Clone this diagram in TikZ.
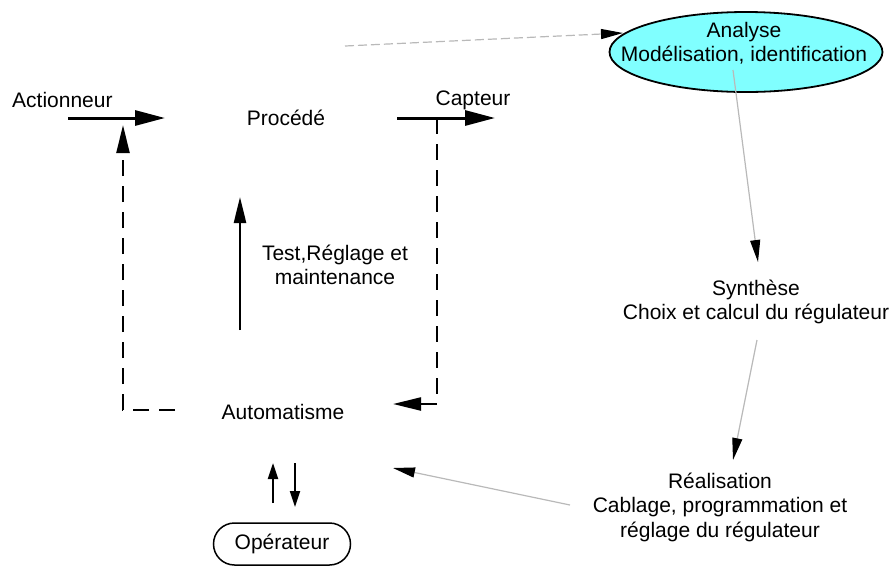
\documentclass[tikz,border=0pt]{standalone}
\usepackage{fontspec}
\setmainfont{Liberation Sans}
\usetikzlibrary{arrows.meta,shapes.geometric}
\definecolor{anacyan}{RGB}{128,255,255}
\definecolor{linkgray}{RGB}{185,185,185}
\begin{document}
\begin{tikzpicture}[x=1pt,y=-1pt,
  every node/.style={font=\fontsize{21}{24.5}\selectfont, inner sep=0pt, align=center},
  bigarrow/.style={line width=3pt, -{Triangle[length=30pt,width=15pt]}},
  loopdash/.style={line width=2.2pt, dash pattern=on 16pt off 10pt, -{Triangle[length=28pt,width=13pt]}},
  solidarrow/.style={line width=2.5pt, -{Triangle[length=26pt,width=12pt]}},
  smallarrow/.style={line width=2.2pt, -{Triangle[length=16pt,width=10pt]}},
  thinlink/.style={draw=linkgray, line width=1.2pt, -{Triangle[length=22pt,width=10pt,color=black,fill=black]}},
]
\useasboundingbox (0,0) rectangle (892,566);

% text nodes of the loop
\node[anchor=west] (act) at (12,100) {Actionneur};
\node (proc) at (286,118) {Procédé};
\node (capt) at (473,100) {Capteur};
\node (test) at (335,265) {Test,Réglage et\\maintenance};
\node (auto) at (283,412) {Automatisme};
\node[draw, rounded corners=21pt, line width=1.5pt, minimum width=137pt, minimum height=42pt] (op) at (282,544) {Opérateur};

% design steps
\node[ellipse, draw, fill=anacyan, line width=1.8pt, minimum width=273pt, minimum height=80pt] (ana) at (746,52) {};
\node (anatext) at (744,43) {Analyse\\Modélisation, identification};
\node (syn) at (756,302) {Synthèse\\Choix et calcul du régulateur};
\node (rea) at (720,507) {Réalisation\\Cablage, programmation et\\réglage du régulateur};

% connector end points
\coordinate (actS) at (68,118);   \coordinate (actE) at (165,118);
\coordinate (capS) at (397,118);  \coordinate (capE) at (495,118);
\coordinate (lfS) at (175,410);   \coordinate (lfC) at (123,410);  \coordinate (lfE) at (123,125);
\coordinate (rtS) at (437,118);   \coordinate (rtC) at (437,404);  \coordinate (rtE) at (393,404);
\coordinate (tstS) at (240,330);  \coordinate (tstE) at (240,197);
\coordinate (upS) at (273,503);   \coordinate (upE) at (273,463);
\coordinate (dnS) at (295,463);   \coordinate (dnE) at (295,507);
\coordinate (anaIn) at (345,46);  \coordinate (anaTip) at (623,33);
\coordinate (anaOut) at (733,70); \coordinate (synIn) at (758,262);
\coordinate (synOut) at (757,340);\coordinate (reaIn) at (733,460);
\coordinate (reaOut) at (570,505);\coordinate (autoIn) at (393,468);

% main loop
\draw[bigarrow] (actS) -- (actE);
\draw[bigarrow] (capS) -- (capE);
\draw[loopdash] (lfS) -- (lfC) -- (lfE);
\draw[loopdash] (rtS) -- (rtC) -- (rtE);
\draw[solidarrow] (tstS) -- (tstE);
\draw[smallarrow] (upS) -- (upE);
\draw[smallarrow] (dnS) -- (dnE);

% design chain
\draw[thinlink, dash pattern=on 9pt off 4pt] (anaIn) -- (anaTip);
\draw[thinlink] (anaOut) -- (synIn);
\draw[thinlink] (synOut) -- (reaIn);
\draw[thinlink] (reaOut) -- (autoIn);
\end{tikzpicture}
\end{document}
